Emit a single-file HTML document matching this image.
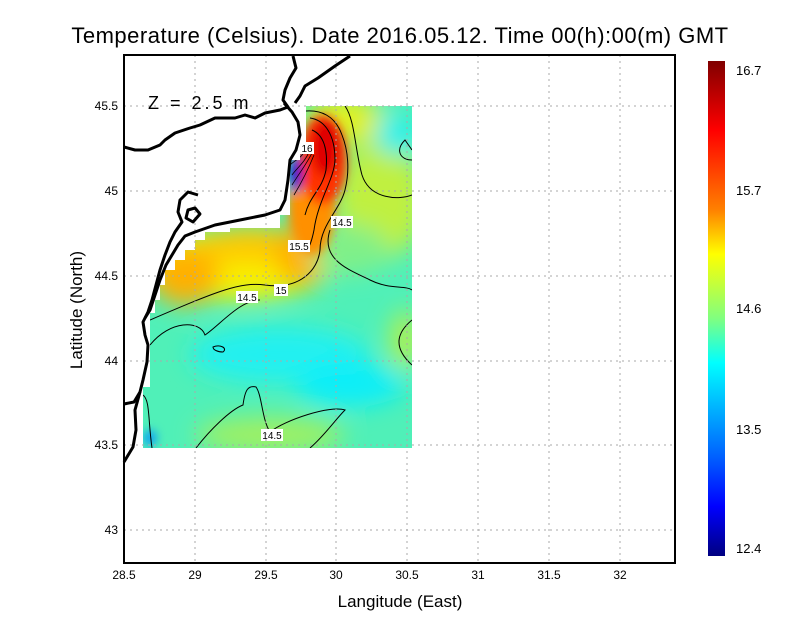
<!DOCTYPE html>
<html><head><meta charset="utf-8"><style>
body{margin:0;background:#fff}
svg text{font-family:"Liberation Sans",sans-serif}
</style></head><body>
<svg width="800" height="618" viewBox="0 0 800 618" xmlns="http://www.w3.org/2000/svg">
<defs>
<linearGradient id="cb" x1="0" y1="0" x2="0" y2="1">
<stop offset="0" stop-color="#800000"/>
<stop offset="0.14" stop-color="#ff0000"/>
<stop offset="0.3" stop-color="#ff8000"/>
<stop offset="0.39" stop-color="#ffff00"/>
<stop offset="0.52" stop-color="#80ff80"/>
<stop offset="0.61" stop-color="#00ffff"/>
<stop offset="0.8" stop-color="#0060ff"/>
<stop offset="0.9" stop-color="#0000ff"/>
<stop offset="1" stop-color="#000080"/>
</linearGradient>
<filter id="bl" x="-50%" y="-50%" width="200%" height="200%"><feGaussianBlur stdDeviation="12"/></filter>
<filter id="bl2" x="-50%" y="-50%" width="200%" height="200%"><feGaussianBlur stdDeviation="5"/></filter>
<clipPath id="dc"><polygon points="306,106 412,106 412,448 143,448 143,387 150,387 150,313 155,313 155,300 160,300 160,285 165,285 165,270 175,270 175,260 185,260 185,250 195,250 195,240 205,240 205,232 230,232 230,228 280,228 280,215 290,215 290,160 300,160 300,150 306,150"/></clipPath>
</defs>
<text x="400" y="43" font-size="22" text-anchor="middle" letter-spacing="0.5">Temperature (Celsius). Date 2016.05.12. Time 00(h):00(m) GMT</text>
<g clip-path="url(#dc)">
<rect x="120" y="100" width="300" height="360" fill="#50f0b8"/>
<g filter="url(#bl)">
<ellipse cx="380" cy="200" rx="45" ry="60" fill="#c0f040"/>
<ellipse cx="345" cy="120" rx="40" ry="25" fill="#e0f020"/>
<ellipse cx="395" cy="135" rx="20" ry="20" fill="#20f0f0"/>
<ellipse cx="235" cy="265" rx="95" ry="35" fill="#f8f000"/>
<ellipse cx="185" cy="275" rx="35" ry="30" fill="#ffb000"/>
<ellipse cx="250" cy="245" rx="50" ry="18" fill="#ffc800"/>
<ellipse cx="300" cy="255" rx="25" ry="30" fill="#ffb000"/>
<ellipse cx="280" cy="355" rx="90" ry="28" fill="#20f0f0"/>
<ellipse cx="350" cy="385" rx="55" ry="22" fill="#10eef8"/>
<ellipse cx="270" cy="435" rx="75" ry="18" fill="#a0f060"/>
<ellipse cx="405" cy="340" rx="15" ry="30" fill="#b0f050"/>
<ellipse cx="350" cy="250" rx="40" ry="25" fill="#80f088"/>
</g>
<g filter="url(#bl2)">
<ellipse cx="312" cy="205" rx="24" ry="50" fill="#ff9000"/>
<ellipse cx="323" cy="160" rx="24" ry="45" fill="#ff3000"/>
<ellipse cx="325" cy="148" rx="14" ry="28" fill="#e00000"/>
<ellipse cx="296" cy="175" rx="6" ry="18" fill="#0010d0"/>
<ellipse cx="150" cy="438" rx="6" ry="8" fill="#0090ff"/>
</g>
<g fill="none" stroke="#000" stroke-width="1">
<path d="M306,111 C320,110 335,115 342,135 C348,150 350,170 345,190 C340,210 320,225 320,250 C318,270 300,290 265,285 C240,282 220,290 150,320"/>
<path d="M310,118 C325,120 335,135 335,160 C334,180 318,200 314,230 C310,250 305,255 300,248"/>
<path d="M312,130 C324,135 328,150 326,170 C322,190 310,195 305,215"/>
<path d="M345,106 C355,120 355,150 362,175 C370,200 400,200 412,195"/>
<path d="M412,160 C400,160 395,150 405,140 L412,150"/>
<path d="M330,230 C320,260 350,270 370,280 C390,290 405,285 412,290"/>
<path d="M412,320 C400,330 390,345 412,365"/>
<path d="M196,448 C210,430 230,410 243,405 C245,390 248,385 256,387 C262,395 262,420 270,432 C285,420 330,405 345,410 C335,420 325,435 310,448"/>
<path d="M143,395 C150,400 148,420 152,448"/>
<path d="M213,347 C220,344 228,348 223,352 C218,352 213,350 213,347Z"/>
<path d="M150,345 C170,320 200,320 205,335 C220,325 240,300 260,300"/>
</g>
<g fill="none" stroke="#000" stroke-width="0.8">
<path d="M290,165 C295,160 302,158 305,150"/>
<path d="M292,175 C297,168 305,162 309,152"/>
<path d="M292,185 C298,175 306,165 312,153"/>
<path d="M294,195 C300,185 308,170 314,155"/>
</g>
</g>
<g font-size="10" text-anchor="middle">
<rect x="300" y="142" width="14" height="12" fill="#fff"/><text x="307" y="152">16</text>
<rect x="331" y="216" width="22" height="12" fill="#fff"/><text x="342" y="226">14.5</text>
<rect x="288" y="240" width="22" height="12" fill="#fff"/><text x="299" y="250">15.5</text>
<rect x="274" y="284" width="14" height="12" fill="#fff"/><text x="281" y="294">15</text>
<rect x="236" y="291" width="22" height="12" fill="#fff"/><text x="247" y="301">14.5</text>
<rect x="261" y="429" width="22" height="12" fill="#fff"/><text x="272" y="439">14.5</text>
</g>
<g stroke="#aaa" stroke-width="1" stroke-dasharray="2,4">
<line x1="195" y1="55" x2="195" y2="563"/><line x1="266" y1="55" x2="266" y2="563"/>
<line x1="336" y1="55" x2="336" y2="563"/><line x1="407" y1="55" x2="407" y2="563"/>
<line x1="478" y1="55" x2="478" y2="563"/><line x1="549" y1="55" x2="549" y2="563"/>
<line x1="620" y1="55" x2="620" y2="563"/>
<line x1="124" y1="106" x2="675" y2="106"/><line x1="124" y1="191" x2="675" y2="191"/>
<line x1="124" y1="276" x2="675" y2="276"/><line x1="124" y1="361" x2="675" y2="361"/>
<line x1="124" y1="445" x2="675" y2="445"/><line x1="124" y1="530" x2="675" y2="530"/>
</g>
<g fill="none" stroke="#000" stroke-width="3" stroke-linejoin="round">
<path d="M124,147 L135,150 L148,150 L160,145 L165,140 L175,133 L190,128 L200,125 L215,118 L235,118 L245,115 L255,118 L265,113 L280,110 L288,107 L283,100 L285,90 L290,78 L296,68 L293,56"/>
<path d="M350,56 L335,66 L318,78 L305,86 L300,96 L295,103"/>
<path d="M284,103 L292,112 L298,122 L300,135 L296,150 L290,160 L288,180 L285,200 L280,210 L265,215 L240,220 L215,225 L195,232 L185,236 L178,245 L172,255 L166,265 L160,280 L155,295 L150,310 L145,318"/>
<path d="M198,195 L188,192 L180,200 L178,212 L182,222 L175,232 L170,242 L165,255 L160,270 L156,285 L152,300 L148,312 L143,322 L145,335 L148,345 L147,362 L143,380 L140,392 L134,402 L124,404"/>
<path d="M140,392 L135,410 L136,430 L133,447 L124,462"/>
<path d="M188,210 L195,208 L200,214 L193,222 L186,218 Z"/>
</g>
<rect x="124" y="55" width="551" height="508" fill="none" stroke="#000" stroke-width="2"/>
<text x="148" y="109" font-size="18" letter-spacing="3">Z = 2.5 m</text>
<g font-size="12" text-anchor="middle">
<text x="124" y="579">28.5</text><text x="195" y="579">29</text><text x="266" y="579">29.5</text>
<text x="336" y="579">30</text><text x="407" y="579">30.5</text><text x="478" y="579">31</text>
<text x="549" y="579">31.5</text><text x="620" y="579">32</text>
</g>
<g font-size="12" text-anchor="end">
<text x="118" y="110">45.5</text><text x="118" y="195">45</text><text x="118" y="280">44.5</text>
<text x="118" y="365">44</text><text x="118" y="449">43.5</text><text x="118" y="534">43</text>
</g>
<text x="400" y="607" font-size="17" text-anchor="middle">Langitude (East)</text>
<text transform="translate(82,310) rotate(-90)" font-size="17" text-anchor="middle">Latitude (North)</text>
<rect x="708" y="61" width="17" height="495" fill="url(#cb)"/>
<g font-size="13">
<text x="736" y="75">16.7</text><text x="736" y="195">15.7</text><text x="736" y="313">14.6</text>
<text x="736" y="434">13.5</text><text x="736" y="553">12.4</text>
</g>
</svg>
</body></html>
